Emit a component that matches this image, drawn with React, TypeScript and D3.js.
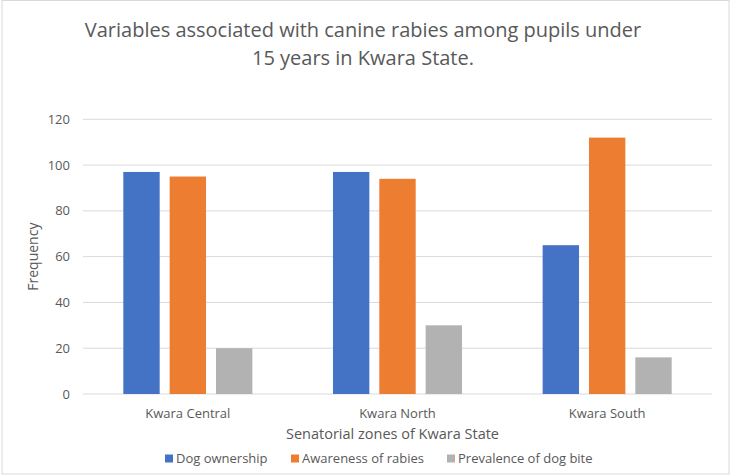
import React from "react";
import * as d3 from "d3";

const categories = ["Kwara Central", "Kwara North", "Kwara South"];
const seriesNames = ["Dog ownership", "Awareness of rabies", "Prevalence of dog bite"];
const dogOwnership = [97, 97, 65];
const awareness = [95, 94, 112];
const dogBite = [20, 30, 16];
const yTicks = [0, 20, 40, 60, 80, 100, 120];
const titleLines = [
  "Variables associated with canine rabies among pupils under",
  "15 years in Kwara State.",
];

const colors = ["#4472C4", "#ED7D31", "#B2B2B2"];
const textColor = "#595959";
const font = "'Open Sans', sans-serif";

const W = 731;
const H = 476;
const margin = { top: 119.3, right: 19, bottom: 82, left: 83 };

const App = () => {
  const series = [dogOwnership, awareness, dogBite];
  const innerW = W - margin.left - margin.right;
  const innerH = H - margin.top - margin.bottom;

  const x0 = d3.scaleBand().domain(categories).range([0, innerW]).padding(0);
  const x1 = d3
    .scaleBand()
    .domain(seriesNames)
    .range([0, x0.bandwidth()])
    .paddingInner(0.215)
    .paddingOuter(0.87);
  const y = d3.scaleLinear().domain([0, 120]).range([innerH, 0]);

  // legend entries start here
  const legendX = [165, 291, 447];

  return (
    <svg
      width={W}
      height={H}
      style={{ position: "absolute", left: 0, top: 0, background: "#fff" }}
      fontFamily={font}
    >
      <rect x={2} y={0.5} width={727} height={473.5} fill="#fff" stroke="#D9D9D9" />

      {titleLines.map((t, i) => (
        <text
          key={i}
          x={363}
          y={37 + i * 28}
          textAnchor="middle"
          fontSize={20}
          fill={textColor}
        >
          {t}
        </text>
      ))}

      <g transform={`translate(${margin.left},${margin.top})`}>
        {yTicks.map((t) => (
          <g key={t} transform={`translate(0,${y(t)})`}>
            <line x1={0} x2={innerW} stroke="#D9D9D9" strokeWidth={1} />
            <text x={-13} dy="0.35em" textAnchor="end" fontSize={13} fill={textColor}>
              {t}
            </text>
          </g>
        ))}

        {categories.map((c, ci) => (
          <g key={c} transform={`translate(${x0(c)},0)`}>
            {series.map((s, si) => (
              <rect
                key={si}
                x={x1(seriesNames[si])}
                y={y(s[ci])}
                width={x1.bandwidth()}
                height={innerH - y(s[ci])}
                fill={colors[si]}
              />
            ))}
            <text
              x={x0.bandwidth() / 2}
              y={innerH + 24}
              textAnchor="middle"
              fontSize={13}
              fill={textColor}
            >
              {c}
            </text>
          </g>
        ))}

        <text
          transform={`translate(${-45},${innerH / 2}) rotate(-90)`}
          textAnchor="middle"
          fontSize={14}
          fill={textColor}
        >
          Frequency
        </text>
        <text
          x={innerW / 2 - 5}
          y={innerH + 45}
          textAnchor="middle"
          fontSize={14.5}
          fill={textColor}
        >
          Senatorial zones of Kwara State
        </text>
      </g>

      {seriesNames.map((n, i) => (
        <g key={n} transform={`translate(${legendX[i]},0)`}>
          <rect x={0} y={454.5} width={8} height={8} fill={colors[i]} />
          <text x={11} y={463} fontSize={13} fill={textColor}>
            {n}
          </text>
        </g>
      ))}
    </svg>
  );
};

export default App;
